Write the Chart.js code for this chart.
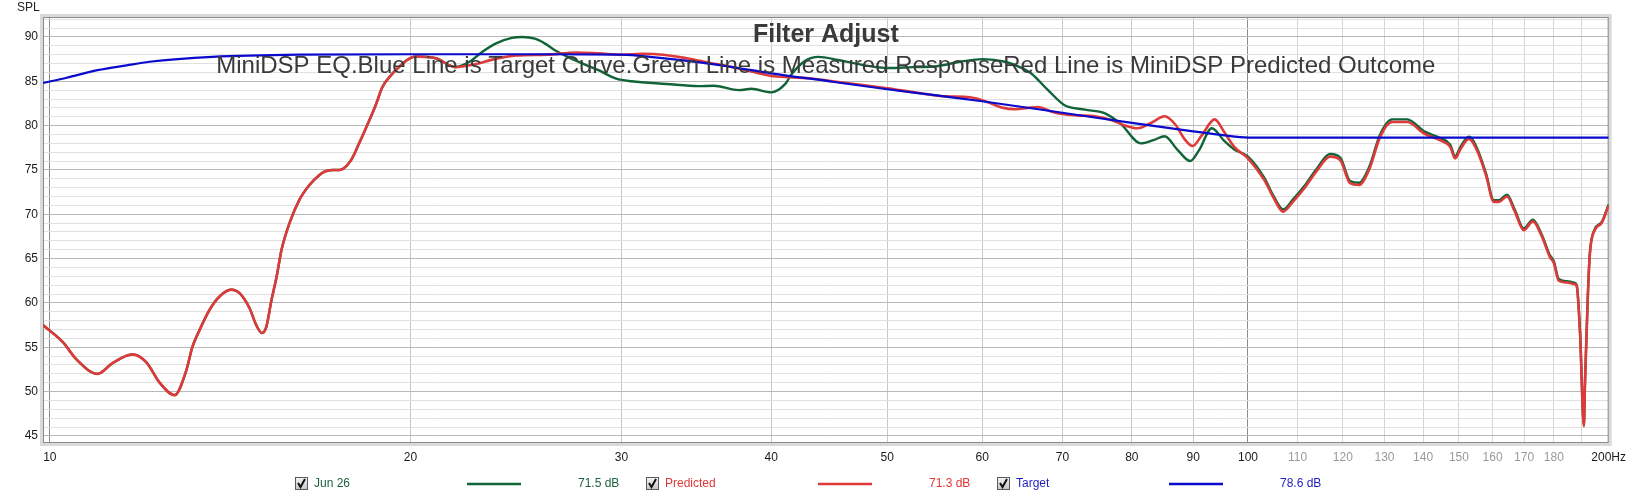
<!DOCTYPE html>
<html><head><meta charset="utf-8">
<script src="https://cdn.jsdelivr.net/npm/chart.js@4.4.0/dist/chart.umd.min.js"></script>
<style>html,body{margin:0;padding:0;background:#fff;overflow:hidden}canvas{display:block}</style>
</head><body>
<canvas id="c" width="1633" height="497"></canvas>
<script>
// ---------- text ----------
const chartTitle = 'Filter Adjust';
const chartSubtitle = 'MiniDSP EQ.Blue Line is Target Curve.Green Line is Measured ResponseRed Line is MiniDSP Predicted Outcome';
const yAxisName = 'SPL';
const seriesNames = ['Jun 26', 'Predicted', 'Target'];
const seriesLevels = ['71.5 dB', '71.3 dB', '78.6 dB'];

// ---------- axes ----------
const xRange = [9.87, 200];
const yRange = [44.2, 92.25];
const xTickValues = [10,20,30,40,50,60,70,80,90,100,110,120,130,140,150,160,170,180,190,200];
const xTickLabels = ['10','20','30','40','50','60','70','80','90','100','110','120','130','140','150','160','170','180','','200Hz'];
const yTickValues = [45,46,47,48,49,50,51,52,53,54,55,56,57,58,59,60,61,62,63,64,65,66,67,68,69,70,71,72,73,74,75,76,77,78,79,80,81,82,83,84,85,86,87,88,89,90,91,92];

// ---------- series: Predicted (red) ----------
const predictedFreq = [9.87,10.25,10.53,10.96,11.28,11.72,12.04,12.35,12.71,13.0,13.15,13.33,13.59,13.85,14.17,14.4,14.68,14.87,15.03,15.16,15.31,15.46,15.61,15.85,16.15,16.47,16.78,16.95,17.2,17.45,17.84,18.12,18.37,18.73,18.94,19.27,19.56,19.87,20.2,21.0,21.8,22.6,23.5,24.5,26.0,27.5,28.7,30.0,31.2,32.5,34.0,35.5,37.1,38.5,40.0,41.5,43.0,45.0,47.5,50.0,53.0,56.0,58.6,60.5,62.5,63.9,65.5,66.8,68.5,70.0,72.0,74.5,77.0,79.0,80.9,83.0,85.2,87.0,88.5,89.9,91.5,93.8,95.5,97.4,100,103.2,105,107,109,111.4,114,117.1,119.4,121.7,123.8,126.2,128.9,131.9,135.8,140.3,144.7,147.5,148.9,150.5,152.9,155.3,158,160.4,162,164.5,167,169.9,172.9,175.9,178.6,180,181.7,184.5,187.4,188.1,189.3,190.7,191.1,192.1,192.9,194.7,197.3,200];
const predictedSPL = [57.5,55.6,53.6,52.0,53.2,54.2,53.3,51.0,49.6,52.4,55.0,56.9,59.2,60.7,61.5,61.1,59.4,57.5,56.6,57.3,60.3,62.9,66.0,69.0,71.6,73.3,74.4,74.8,75.0,75.0,76.1,78.0,79.8,82.5,84.3,85.7,86.6,87.4,87.8,87.6,86.6,86.9,87.5,87.9,88.0,88.25,88.15,88.0,88.1,88.0,87.6,87.1,86.6,86.1,85.6,85.45,85.35,85.0,84.6,84.2,83.7,83.3,83.2,82.7,82.0,81.85,82.0,82.1,81.6,81.3,81.15,81.05,80.6,80.0,79.7,80.3,81.05,80.1,78.5,77.7,78.9,80.7,79.3,77.6,76.3,73.85,71.9,70.3,71.4,72.9,74.8,76.5,76.1,73.5,73.3,75.0,78.7,80.4,80.4,79.1,78.35,77.6,76.3,77.4,78.5,77.2,74.4,71.4,71.4,72.0,70.3,68.2,69.2,67.5,65.2,64.5,62.5,62.3,62.1,61.9,56.6,46.1,50.9,60.3,65.5,68.2,69.0,71.0];

// ---------- series: Measured "Jun 26" (green) ----------
const measuredFreq = [9.87,10.25,10.53,10.96,11.28,11.72,12.04,12.35,12.71,13.0,13.15,13.33,13.59,13.85,14.17,14.4,14.68,14.87,15.03,15.16,15.31,15.46,15.61,15.85,16.15,16.47,16.78,16.95,17.2,17.45,17.84,18.12,18.37,18.73,18.94,19.27,19.56,19.87,20.2,21.0,21.8,22.4,22.95,23.6,24.3,24.8,25.4,25.9,26.4,27.3,28.3,28.7,29.7,30.6,32.7,34.8,35.8,37.6,38.5,40.0,41.1,41.6,42.7,43.8,45.5,47.9,50.1,52.5,55.0,57.5,60.1,62.7,64.5,65.9,68.1,70.3,73.1,75.9,78.3,81.4,83.5,85.2,87.3,89.5,91.0,93.3,95.5,97.4,100,103.2,105,107,109,111.4,114,117.1,119.4,121.7,123.8,126.2,128.9,131.9,135.8,140.3,144.7,147.5,148.9,150.5,152.9,155.3,158,160.4,162,164.5,167,169.9,172.9,175.9,178.6,180,181.7,184.5,187.4,188.1,189.3,190.7,191.1,192.1,192.9,194.7,197.3,200];
const measuredSPL = [57.5,55.6,53.6,52.0,53.2,54.2,53.3,51.0,49.6,52.4,55.0,56.9,59.2,60.7,61.5,61.1,59.4,57.5,56.6,57.3,60.3,62.9,66.0,69.0,71.6,73.3,74.4,74.8,75.0,75.0,76.1,78.0,79.8,82.5,84.3,85.7,86.6,87.4,87.8,87.6,86.6,87.2,88.3,89.3,89.9,90.0,89.8,89.25,88.5,87.5,86.6,86.25,85.3,85.0,84.7,84.45,84.5,84.0,84.15,83.75,84.7,85.8,87.3,87.75,87.4,86.8,86.5,86.6,86.7,87.2,87.5,87.2,86.6,85.9,84.0,82.3,81.8,81.4,80.2,78.0,78.4,78.8,77.3,76.0,77.2,79.7,78.3,77.3,76.5,74.1,72.1,70.55,71.65,73.15,75.05,76.8,76.4,73.75,73.55,75.3,79.0,80.7,80.7,79.35,78.6,77.85,76.55,77.65,78.75,77.45,74.6,71.6,71.6,72.2,70.5,68.4,69.4,67.7,65.4,64.7,62.7,62.45,62.25,62.0,56.7,46.2,51.0,60.4,65.6,68.3,69.1,71.1];

// ---------- series: Target (blue) ----------
const targetFreq = [9.87,10.33,10.96,11.59,12.11,13.67,16.15,20,25,30,32,35,37.1,40,45,50,55,60,70,80,90,95,100,150,200];
const targetSPL = [84.8,85.4,86.25,86.8,87.2,87.75,88.0,88.05,88.05,88.0,87.7,87.1,86.6,85.9,84.95,84.1,83.4,82.75,81.45,80.3,79.35,78.95,78.65,78.65,78.65];

const pts = (f, v) => f.map((x, i) => ({x: x, y: v[i]}));
const GREEN = 'rgb(16,100,56)', RED = 'rgb(222,58,58)', BLUE = 'rgb(10,10,205)';
const FONT = '"Liberation Sans", Arial, sans-serif';

const decor = {
  id: 'decor',
  beforeDatasetsDraw(chart) {
    const {ctx, chartArea: a} = chart;
    ctx.save();
    ctx.strokeStyle = '#dadada'; ctx.lineWidth = 3;
    ctx.strokeRect(a.left - 1.5, a.top - 1.5, a.right - a.left + 3, a.bottom - a.top + 3);
    ctx.strokeStyle = '#8a8a8a'; ctx.lineWidth = 1;
    ctx.strokeRect(a.left + 0.5, a.top + 0.5, a.right - a.left - 1, a.bottom - a.top - 1);
    ctx.restore();
  },
  afterDatasetsDraw(chart) {
    const {ctx, chartArea: a} = chart;
    const cx = (a.left + a.right) / 2;
    ctx.save();
    ctx.textAlign = 'center'; ctx.textBaseline = 'alphabetic';
    ctx.fillStyle = '#3a3a3a';
    ctx.font = 'bold 25px ' + FONT;
    ctx.fillText(chartTitle, cx, 42);
    ctx.font = '24px ' + FONT;
    ctx.fillText(chartSubtitle, cx, 73);
    ctx.textAlign = 'left'; ctx.textBaseline = 'middle';
    ctx.fillStyle = '#222'; ctx.font = '12px ' + FONT;
    ctx.fillText(yAxisName, 17, 8);
    const cols = [GREEN, RED, BLUE];
    const txtCols = ['rgb(30,100,60)', 'rgb(225,55,55)', 'rgb(30,30,190)'];
    const yc = 484;
    for (let i = 0; i < 3; i++) {
      const x0 = 295 + i * 351;
      const g = ctx.createLinearGradient(0, yc - 7, 0, yc + 6);
      g.addColorStop(0, '#f6f6f6'); g.addColorStop(1, '#c4c4c4');
      ctx.fillStyle = g;
      ctx.fillRect(x0, yc - 7, 13, 13);
      ctx.strokeStyle = '#5a5a5a'; ctx.lineWidth = 1;
      ctx.strokeRect(x0 + 0.5, yc - 6.5, 12, 12);
      ctx.strokeStyle = '#111'; ctx.lineWidth = 2;
      ctx.beginPath();
      ctx.moveTo(x0 + 3, yc - 1); ctx.lineTo(x0 + 5.5, yc + 3); ctx.lineTo(x0 + 10, yc - 5);
      ctx.stroke();
      ctx.fillStyle = txtCols[i];
      ctx.font = '12px ' + FONT;
      ctx.fillText(seriesNames[i], x0 + 19, yc);
      ctx.strokeStyle = cols[i]; ctx.lineWidth = 2.5;
      ctx.beginPath(); ctx.moveTo(x0 + 172, yc); ctx.lineTo(x0 + 226, yc); ctx.stroke();
      ctx.fillText(seriesLevels[i], x0 + 283, yc);
    }
    ctx.restore();
  }
};

new Chart(document.getElementById('c'), {
  type: 'line',
  data: {
    datasets: [
      {label: seriesNames[2], data: pts(targetFreq, targetSPL), borderColor: BLUE, borderWidth: 2.2, order: 0},
      {label: seriesNames[1], data: pts(predictedFreq, predictedSPL), borderColor: RED, borderWidth: 2.6, order: 1},
      {label: seriesNames[0], data: pts(measuredFreq, measuredSPL), borderColor: GREEN, borderWidth: 2.4, order: 2}
    ]
  },
  options: {
    responsive: false, animation: false, devicePixelRatio: 1,
    parsing: false,
    layout: {padding: {left: 0, top: 17, right: 21, bottom: 0}},
    elements: {point: {radius: 0}, line: {cubicInterpolationMode: 'monotone', fill: false}},
    plugins: {legend: {display: false}, tooltip: {enabled: false}, title: {display: false}},
    scales: {
      x: {
        type: 'logarithmic', min: xRange[0], max: xRange[1],
        afterBuildTicks: s => { s.ticks = xTickValues.map(v => ({value: v})); },
        afterFit: s => { s.height = 54; },
        border: {display: false},
        grid: {
          drawTicks: false, lineWidth: 1,
          color: c => { const v = c.tick && c.tick.value; return (v === 10 || v === 100) ? '#8c8c8c' : (v < 100 ? '#c8c8c8' : '#d6d6d6'); }
        },
        ticks: {
          autoSkip: false, maxRotation: 0, padding: 7,
          font: {family: FONT, size: 12},
          color: c => { const v = c.tick && c.tick.value; return (v > 100 && v < 200) ? '#9a9a9a' : '#1a1a1a'; },
          callback: v => { const i = xTickValues.indexOf(v); return i >= 0 ? xTickLabels[i] : ''; }
        }
      },
      y: {
        type: 'linear', min: yRange[0], max: yRange[1],
        afterBuildTicks: s => { s.ticks = yTickValues.map(v => ({value: v})); },
        afterFit: s => { s.width = 43; },
        border: {display: false},
        grid: {
          drawTicks: false, lineWidth: 1,
          color: c => (c.tick && c.tick.value % 5 === 0) ? '#b8b8b8' : '#e0e0e0'
        },
        ticks: {
          autoSkip: false, padding: 5,
          font: {family: FONT, size: 12}, color: '#1a1a1a',
          callback: v => (v % 5 === 0 ? String(v) : '')
        }
      }
    }
  },
  plugins: [decor]
});
</script>
</body></html>
